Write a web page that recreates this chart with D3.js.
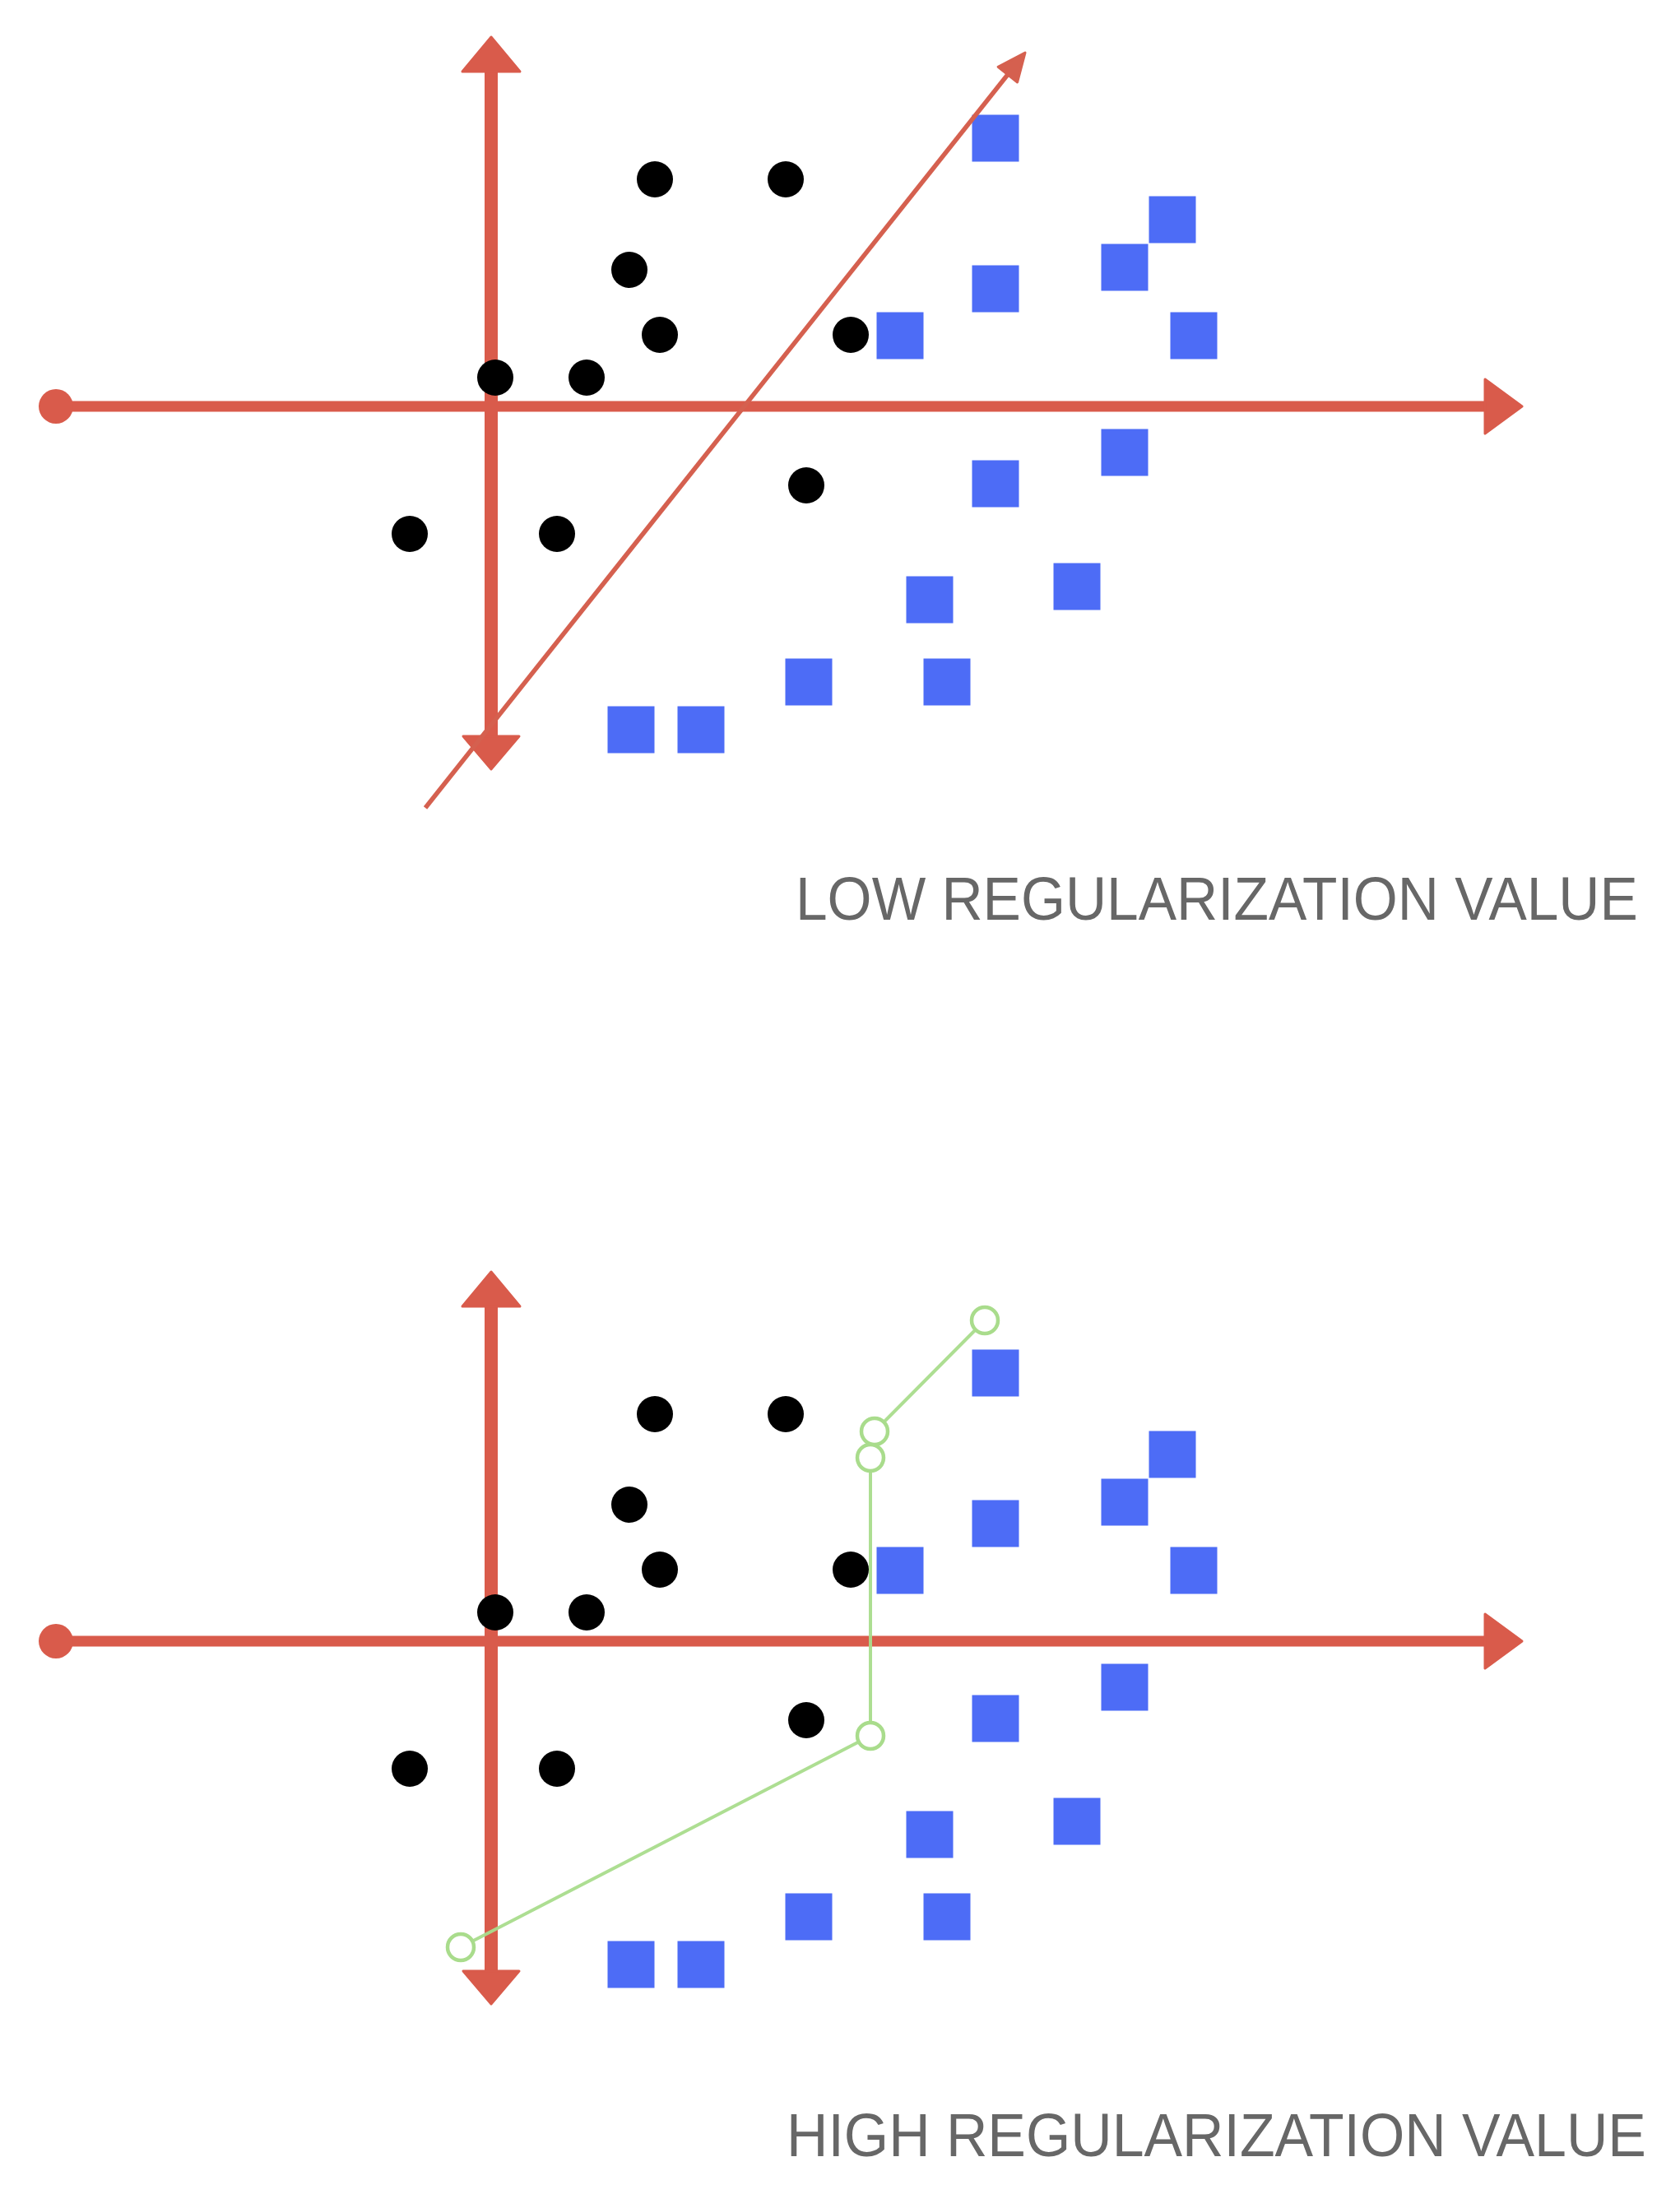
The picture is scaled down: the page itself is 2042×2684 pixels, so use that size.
<!DOCTYPE html>
<html><head><meta charset="utf-8">
<script src="https://cdn.jsdelivr.net/npm/d3@7"></script>
<style>html,body{margin:0;padding:0;background:#fff;} svg{display:block;}</style>
</head><body>
<svg id="chart" width="2042" height="2684"></svg>
<script>
// Data (axis-origin coordinates)
const classCircles = [
  [1.99, 2.76], [3.58, 2.76], [1.68, 1.66], [2.05, 0.87], [4.37, 0.87],
  [0.05, 0.35], [1.16, 0.35], [3.83, -0.96], [-0.99, -1.55], [0.80, -1.55]
];
const classSquares = [
  [6.13, 3.26], [8.28, 2.27], [7.70, 1.69], [6.13, 1.43], [4.97, 0.86],
  [8.54, 0.86], [7.70, -0.56], [6.13, -0.94], [7.12, -2.19], [5.33, -2.35],
  [5.54, -3.35], [3.86, -3.35], [1.70, -3.93], [2.55, -3.93]
];
const lowBoundary = [[-0.80, -4.88], [6.49, 4.30]];
const highBoundary = [[6.00, 3.90], [4.66, 2.55], [4.61, 2.23], [4.61, -1.15], [-0.37, -3.72]];
const panelTitles = ["LOW REGULARIZATION VALUE", "HIGH REGULARIZATION VALUE"];
const xDomain = [-5.29, 12.53];
const yDomain = [-4.41, 4.49];

const svg = d3.select("#chart");
const x = d3.scaleLinear().domain(xDomain).range([68, 1850]);
const AXIS = "#d95b4b";
const panels = [
  {top: 45, title: panelTitles[0], boundary: lowBoundary, kind: "line", tx0: 967, tx1: 1991, ty: 1118},
  {top: 1546, title: panelTitles[1], boundary: highBoundary, kind: "path", tx0: 956, tx1: 2001, ty: 2621}
];

function arrowHead(g, tip, angle, len, hw, color) {
  const [tx, ty] = tip;
  const bx = tx - len * Math.cos(angle), by = ty - len * Math.sin(angle);
  const nx = -Math.sin(angle), ny = Math.cos(angle);
  g.append("path")
    .attr("d", `M${tx},${ty}L${bx + nx * hw},${by + ny * hw}L${bx - nx * hw},${by - ny * hw}Z`)
    .attr("fill", color).attr("stroke", color).attr("stroke-width", 3).attr("stroke-linejoin", "round");
}

panels.forEach(p => {
  const y = d3.scaleLinear().domain(yDomain).range([p.top + 890, p.top]);
  const g = svg.append("g");
  const x0 = x(0), y0 = y(0);
  // horizontal axis
  const xr = x(xDomain[1]);
  g.append("line").attr("x1", x(xDomain[0])).attr("x2", xr - 40).attr("y1", y0).attr("y2", y0)
    .attr("stroke", AXIS).attr("stroke-width", 13);
  arrowHead(g, [xr, y0], 0, 45, 33, AXIS);
  g.append("circle").attr("cx", x(xDomain[0])).attr("cy", y0).attr("r", 21).attr("fill", AXIS);
  // vertical axis
  const yt = y(yDomain[1]), yb = y(yDomain[0]);
  g.append("line").attr("x1", x0).attr("x2", x0).attr("y1", yt + 38).attr("y2", yb - 36)
    .attr("stroke", AXIS).attr("stroke-width", 16);
  arrowHead(g, [x0, yt], -Math.PI / 2, 42, 35, AXIS);
  arrowHead(g, [x0, yb], Math.PI / 2, 40, 34, AXIS);

  // data
  g.selectAll("circle.pt").data(classCircles).join("circle").attr("class", "pt")
    .attr("cx", d => x(d[0])).attr("cy", d => y(d[1])).attr("r", 22).attr("fill", "#000");
  const s = 57;
  g.selectAll("rect.sq").data(classSquares).join("rect").attr("class", "sq")
    .attr("x", d => x(d[0]) - s / 2).attr("y", d => y(d[1]) - s / 2)
    .attr("width", s).attr("height", s).attr("fill", "#4d6cf6");

  if (p.kind === "line") {
    const a = p.boundary[0], b = p.boundary[1];
    const ax = x(a[0]), ay = y(a[1]), bx = x(b[0]), by = y(b[1]);
    const ang = Math.atan2(by - ay, bx - ax);
    g.append("line").attr("x1", ax).attr("y1", ay)
      .attr("x2", bx - 22 * Math.cos(ang)).attr("y2", by - 22 * Math.sin(ang))
      .attr("stroke", "#d5604f").attr("stroke-width", 5.5);
    arrowHead(g, [bx, by], ang, 34, 15, "#d5604f");
  } else {
    const line = d3.line().x(d => x(d[0])).y(d => y(d[1]));
    g.append("path").attr("d", line(p.boundary)).attr("fill", "none")
      .attr("stroke", "#a9dc8c").attr("stroke-width", 4).attr("opacity", 0.95);
    g.selectAll("circle.sv").data(p.boundary).join("circle").attr("class", "sv")
      .attr("cx", d => x(d[0])).attr("cy", d => y(d[1])).attr("r", 16)
      .attr("fill", "#fff").attr("stroke", "#a9dc8c").attr("stroke-width", 4.5);
  }

  const t = svg.append("text").text(p.title)
    .attr("x", 0).attr("y", 0)
    .attr("font-family", "'Liberation Sans', Arial, sans-serif")
    .attr("font-size", 74).attr("fill", "#676767");
  const natural = t.node().getComputedTextLength();
  const k = (p.tx1 - p.tx0) / natural;
  t.attr("transform", `translate(${p.tx0},${p.ty}) scale(${k},1)`);
});
</script>
</body></html>
